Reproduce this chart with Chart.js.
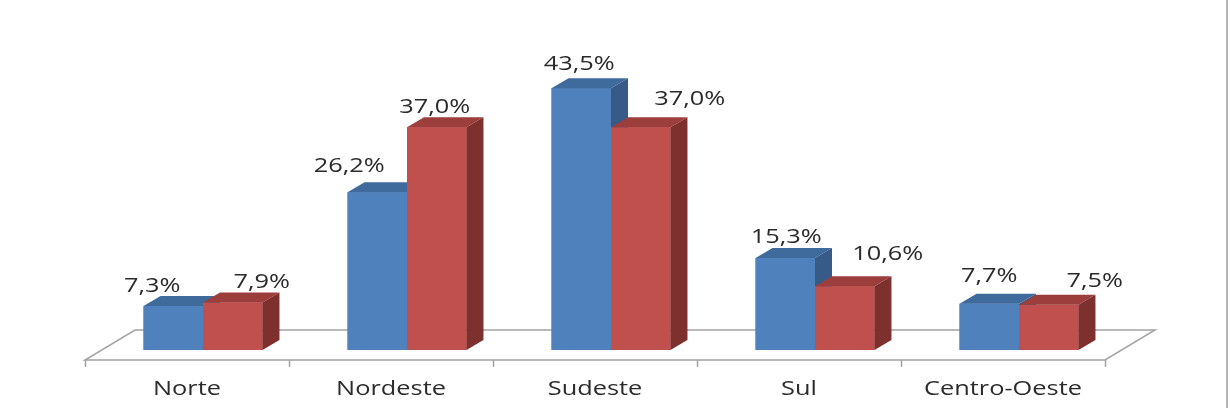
<!DOCTYPE html>
<html lang="pt">
<head>
    <meta charset="UTF-8">
    <title>Distribuição por região</title>
    <script src="https://cdn.jsdelivr.net/npm/chart.js"></script>
    <style>
        html, body { margin: 0; padding: 0; background: #fff; }
        #wrap { width: 1230px; height: 408px; position: relative; }
    </style>
</head>
<body>
<div id="wrap">
    <canvas id="grafico" width="1230" height="408"></canvas>
</div>
<script>
    // dados (%)
    const regioes = ['Norte', 'Nordeste', 'Sudeste', 'Sul', 'Centro-Oeste'];
    const serieAzul = [7.3, 26.2, 43.5, 15.3, 7.7];
    const serieVermelha = [7.9, 37.0, 37.0, 10.6, 7.5];

    const cores = [
        { frente: '#4f81bd', topo: '#3f6a9c', lado: '#365b88' },
        { frente: '#c0504d', topo: '#9c3e3c', lado: '#7e302e' }
    ];

    // deslocamento dos rótulos (Excel os espalha um pouco)
    const ajusteRotulos = [
        { dx: [-21, -28, -2, 1, 0], dy: [-14, -20, -18, -15, -22] },
        { dx: [29, -2, 49, 43, 46], dy: [-14, -14, -22, -26, -18] }
    ];

    const PROF_X = 17, PROF_Y = -10;   // profundidade das barras
    const ESTICA = 1.3;                // texto largo como no original
    const FONTE = '19.5px "Open Sans"';
    const COR_TEXTO = '#2b2b2b';

    function fmt(v) {
        return v.toFixed(1).replace('.', ',') + '%';
    }

    function textoLargo(ctx, txt, x, y) {
        ctx.save();
        ctx.translate(x, y);
        ctx.scale(ESTICA, 1);
        ctx.fillText(txt, 0, 0);
        ctx.restore();
    }

    const barras3d = {
        id: 'barras3d',
        beforeDatasetsDraw(chart) {
            const ctx = chart.ctx;
            const area = chart.chartArea;
            const x = chart.scales.x;
            const base = chart.scales.y.getPixelForValue(0);
            const frenteY = base + 10, fundoY = base - 20;
            const fl = area.left - 16, fr = area.right - 16;
            ctx.save();
            ctx.fillStyle = '#ffffff';
            ctx.strokeStyle = '#a3a3a3';
            ctx.lineWidth = 1.5;
            ctx.beginPath();
            ctx.moveTo(fl, frenteY);
            ctx.lineTo(fr, frenteY);
            ctx.lineTo(fr + 50, fundoY);
            ctx.lineTo(fl + 50, fundoY);
            ctx.closePath();
            ctx.fill();
            ctx.stroke();
            // marcas do eixo
            const passo = (area.right - area.left) / regioes.length;
            ctx.beginPath();
            for (let i = 0; i <= regioes.length; i++) {
                const px = Math.round(fl + i * passo) + 0.5;
                ctx.moveTo(px, frenteY);
                ctx.lineTo(px, frenteY + 7);
            }
            ctx.stroke();
            // nomes das regiões
            ctx.fillStyle = COR_TEXTO;
            ctx.font = FONTE;
            ctx.textAlign = 'center';
            ctx.textBaseline = 'alphabetic';
            regioes.forEach((r, i) => {
                textoLargo(ctx, r, x.getPixelForValue(i) - 16, base + 45);
            });
            ctx.restore();
        },
        afterDatasetsDraw(chart) {
            const ctx = chart.ctx;
            ctx.save();
            chart.data.datasets.forEach((ds, d) => {
                const meta = chart.getDatasetMeta(d);
                const c = cores[d];
                meta.data.forEach(bar => {
                    const l = bar.x - bar.width / 2, r = bar.x + bar.width / 2;
                    const t = bar.y, b = bar.base;
                    ctx.fillStyle = c.frente;
                    ctx.fillRect(l, t, r - l, b - t);
                    ctx.fillStyle = c.topo;
                    ctx.beginPath();
                    ctx.moveTo(l, t);
                    ctx.lineTo(r, t);
                    ctx.lineTo(r + PROF_X, t + PROF_Y);
                    ctx.lineTo(l + PROF_X, t + PROF_Y);
                    ctx.closePath();
                    ctx.fill();
                    ctx.fillStyle = c.lado;
                    ctx.beginPath();
                    ctx.moveTo(r, t);
                    ctx.lineTo(r + PROF_X, t + PROF_Y);
                    ctx.lineTo(r + PROF_X, b + PROF_Y);
                    ctx.lineTo(r, b);
                    ctx.closePath();
                    ctx.fill();
                });
            });
            // rótulos de valor
            ctx.fillStyle = COR_TEXTO;
            ctx.font = FONTE;
            ctx.textAlign = 'center';
            ctx.textBaseline = 'alphabetic';
            chart.data.datasets.forEach((ds, d) => {
                const meta = chart.getDatasetMeta(d);
                const aj = ajusteRotulos[d];
                meta.data.forEach((bar, i) => {
                    textoLargo(ctx, fmt(ds.data[i]), bar.x + aj.dx[i], bar.y + aj.dy[i]);
                });
            });
            // borda direita
            ctx.fillStyle = '#b4b4b4';
            ctx.fillRect(1226, 0, 2, chart.height);
            ctx.restore();
        }
    };

    new Chart(document.getElementById('grafico'), {
        type: 'bar',
        data: {
            labels: regioes,
            datasets: [
                { label: 'A', data: serieAzul, backgroundColor: cores[0].frente },
                { label: 'B', data: serieVermelha, backgroundColor: cores[1].frente }
            ]
        },
        options: {
            responsive: false,
            animation: false,
            events: [],
            categoryPercentage: 0.583,
            barPercentage: 1,
            layout: { padding: { left: 101, right: 109, top: 49, bottom: 58 } },
            plugins: {
                legend: { display: false },
                tooltip: { enabled: false }
            },
            scales: {
                x: { display: false },
                y: { display: false, min: 0, max: 50 }
            }
        },
        plugins: [barras3d]
    });
</script>
</body>
</html>
